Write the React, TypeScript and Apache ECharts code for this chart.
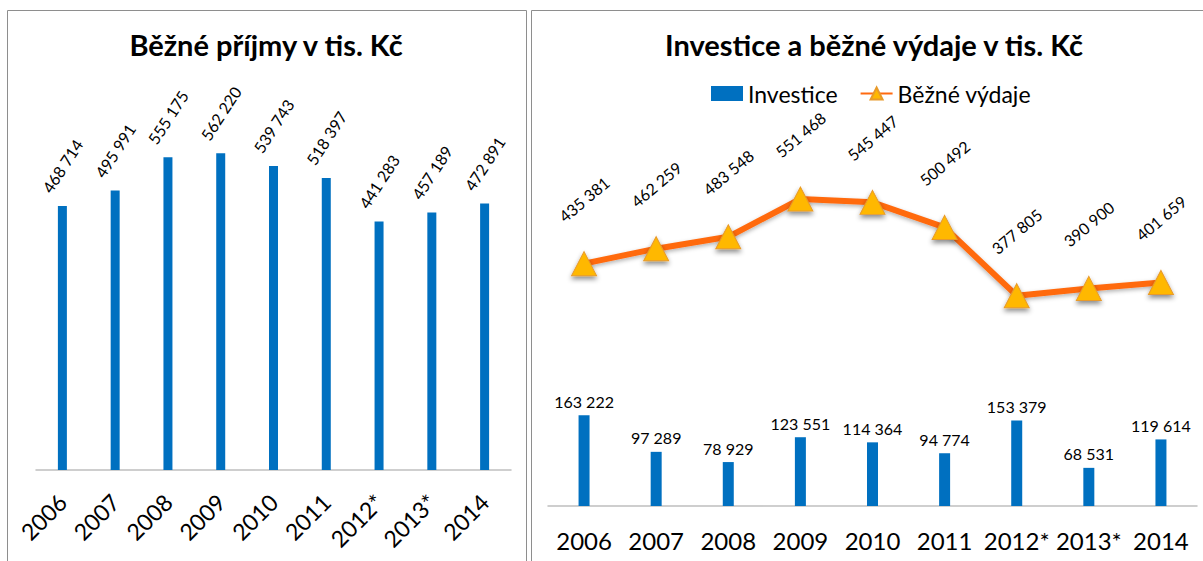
import React, { useEffect, useRef } from "react";
import * as echarts from "echarts";

const categories = ["2006", "2007", "2008", "2009", "2010", "2011", "2012*", "2013*", "2014"];
const prijmy = [468714, 495991, 555175, 562220, 539743, 518397, 441283, 457189, 472891];
const investice = [163222, 97289, 78929, 123551, 114364, 94774, 153379, 68531, 119614];
const bezneVydaje = [435381, 462259, 483548, 551468, 545447, 500492, 377805, 390900, 401659];

const leftTitle = "Běžné příjmy v tis. Kč";
const rightTitle = "Investice a běžné výdaje v tis. Kč";
const invName = "Investice";
const vydName = "Běžné výdaje";

const FONT = 'Lato, "Open Sans", sans-serif';
const fmt = (v: number) => String(v).replace(/\B(?=(\d{3})+(?!\d))/g, " ");

export default function App() {
  const ref = useRef<HTMLDivElement>(null);
  useEffect(() => {
    if (!ref.current) return;
    const chart = echarts.init(ref.current, null, { renderer: "svg" });
    chart.setOption({
      animation: false,
      textStyle: { fontFamily: FONT },
      graphic: [
        { type: "rect", shape: { x: 7.5, y: 10.5, width: 519, height: 620 }, style: { fill: "none", stroke: "#8e8e8e", lineWidth: 1 } },
        { type: "rect", shape: { x: 531.5, y: 10.5, width: 720, height: 620 }, style: { fill: "none", stroke: "#8e8e8e", lineWidth: 1 } },
        { type: "text", x: 266, y: 44, style: { text: leftTitle, fontFamily: FONT, fontWeight: "bold", fontSize: 29, fill: "#000", textAlign: "center", textVerticalAlign: "middle" } },
        { type: "text", x: 874, y: 44, style: { text: rightTitle, fontFamily: FONT, fontWeight: "bold", fontSize: 29, fill: "#000", textAlign: "center", textVerticalAlign: "middle" } },
      ],
      legend: {
        left: 706,
        top: 77,
        itemWidth: 32,
        itemHeight: 15,
        itemGap: 22,
        textStyle: { fontFamily: FONT, fontSize: 23, color: "#000" },
        data: [
          { name: invName, icon: "rect" },
          { name: vydName },
        ],
      },
      grid: [
        { left: 36, right: 692, top: 132, bottom: 91 },
        { left: 548, right: 6, top: 172, bottom: 55 },
      ],
      xAxis: [
        {
          type: "category", gridIndex: 0, data: categories,
          axisLine: { lineStyle: { color: "#bfbfbf", width: 1.5 } },
          axisTick: { show: false },
          axisLabel: { rotate: 45, interval: 0, fontSize: 23, color: "#000", fontFamily: FONT, margin: 28 },
        },
        {
          type: "category", gridIndex: 1, data: categories,
          axisLine: { lineStyle: { color: "#bfbfbf", width: 1.5 } },
          axisTick: { show: false },
          axisLabel: { interval: 0, fontSize: 24, color: "#000", fontFamily: FONT, margin: 22 },
        },
      ],
      yAxis: [
        { type: "value", gridIndex: 0, min: 0, max: 600000, show: false, splitLine: { show: false } },
        { type: "value", gridIndex: 1, min: 0, max: 600000, show: false, splitLine: { show: false } },
      ],
      series: [
        {
          name: "Běžné příjmy", type: "bar", xAxisIndex: 0, yAxisIndex: 0, data: prijmy, barWidth: 9,
          itemStyle: { color: "#0070C0" },
          label: {
            show: true, position: "top", distance: 40, rotate: 57, align: "center", verticalAlign: "middle",
            fontSize: 16, color: "#000", fontFamily: FONT, formatter: (p: any) => fmt(p.value),
          },
        },
        {
          name: invName, type: "bar", xAxisIndex: 1, yAxisIndex: 1, data: investice, barWidth: 11,
          itemStyle: { color: "#0070C0" },
          label: { show: true, position: "top", distance: 6, fontSize: 16, color: "#000", fontFamily: FONT, formatter: (p: any) => fmt(p.value) },
        },
        {
          name: vydName, type: "line", xAxisIndex: 1, yAxisIndex: 1, data: bezneVydaje,
          symbol: "triangle", symbolSize: [25, 24],
          lineStyle: { color: "#FF6A10", width: 6, shadowColor: "rgba(0,0,0,0.3)", shadowBlur: 4, shadowOffsetY: 2 },
          itemStyle: { color: "#FFB800", borderColor: "#E89A2A", borderWidth: 1, shadowColor: "rgba(0,0,0,0.45)", shadowBlur: 5, shadowOffsetY: 3 },
          label: {
            show: true, position: "top", distance: 52, rotate: 40, align: "center", verticalAlign: "middle",
            fontSize: 16, color: "#000", fontFamily: FONT, formatter: (p: any) => fmt(p.value),
          },
          z: 3,
        },
      ],
    });
    return () => chart.dispose();
  }, []);
  return <div ref={ref} style={{ position: "absolute", left: 0, top: 0, width: 1203, height: 561 }} />;
}
